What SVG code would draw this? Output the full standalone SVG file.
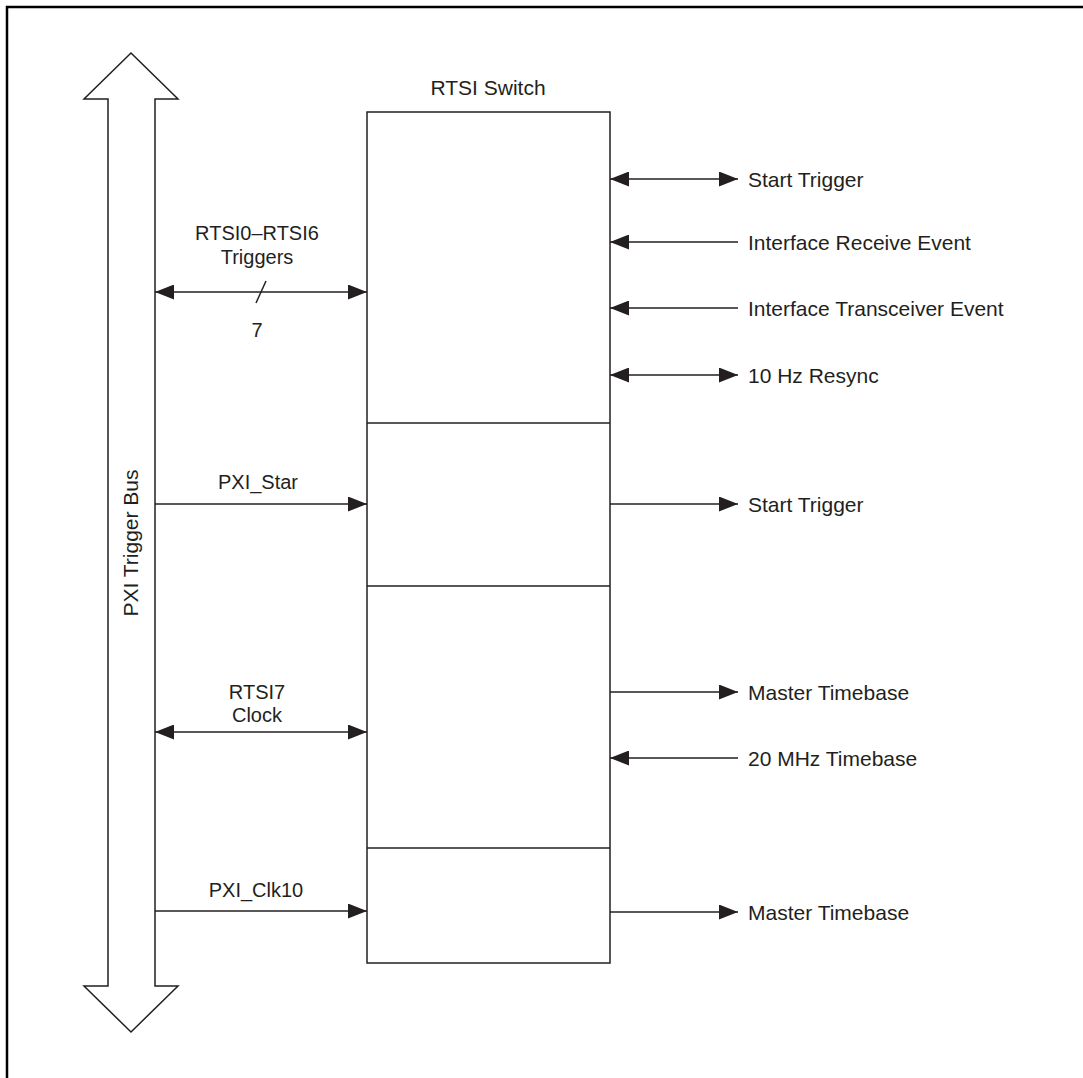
<svg xmlns="http://www.w3.org/2000/svg" width="1083" height="1078" viewBox="0 0 1083 1078">
<style>
text{font-family:"Liberation Sans",Arial,sans-serif;font-size:21px;fill:#231f20}
.c{text-anchor:middle}
.l{font-size:20px}
.ln{stroke:#231f20;stroke-width:1.5;fill:none}
.bx{stroke:#231f20;stroke-width:1.5;fill:#fff}
</style>
<defs>
<marker id="ah" markerUnits="userSpaceOnUse" markerWidth="19" markerHeight="15" refX="19" refY="7.5" orient="auto-start-reverse" viewBox="0 0 19 15">
<path d="M0,0 L19,7.5 L0,15 z" fill="#231f20"/>
</marker>
</defs>
<rect width="1083" height="1078" fill="#fff"/>
<path d="M7,1078 V7 H1083" fill="none" stroke="#000" stroke-width="2.5"/>

<g id="bus">
<polygon class="bx" points="131,53 178,99 155,99 155,986 178,986 131,1032 84,986 108,986 108,99 84,99"/>
<text transform="translate(138,543) rotate(-90)" class="c">PXI Trigger Bus</text>
</g>

<g id="switch">
<text x="488" y="95" class="c">RTSI Switch</text>
<rect class="bx" x="367" y="112" width="243" height="851"/>
<line class="ln" x1="367" y1="423" x2="610" y2="423"/>
<line class="ln" x1="367" y1="586" x2="610" y2="586"/>
<line class="ln" x1="367" y1="848" x2="610" y2="848"/>
</g>

<g id="connectors">
<line class="ln" x1="155" y1="292" x2="367" y2="292" marker-start="url(#ah)" marker-end="url(#ah)"/>
<line class="ln" x1="266" y1="281" x2="256" y2="303"/>
<line class="ln" x1="155" y1="504" x2="367" y2="504" marker-end="url(#ah)"/>
<line class="ln" x1="155" y1="732" x2="367" y2="732" marker-start="url(#ah)" marker-end="url(#ah)"/>
<line class="ln" x1="155" y1="911" x2="367" y2="911" marker-end="url(#ah)"/>

<line class="ln" x1="610" y1="179" x2="738" y2="179" marker-start="url(#ah)" marker-end="url(#ah)"/>
<line class="ln" x1="610" y1="242" x2="738" y2="242" marker-start="url(#ah)"/>
<line class="ln" x1="610" y1="308" x2="738" y2="308" marker-start="url(#ah)"/>
<line class="ln" x1="610" y1="375" x2="738" y2="375" marker-start="url(#ah)" marker-end="url(#ah)"/>
<line class="ln" x1="610" y1="504" x2="738" y2="504" marker-end="url(#ah)"/>
<line class="ln" x1="610" y1="692" x2="738" y2="692" marker-end="url(#ah)"/>
<line class="ln" x1="610" y1="758" x2="738" y2="758" marker-start="url(#ah)"/>
<line class="ln" x1="610" y1="912" x2="738" y2="912" marker-end="url(#ah)"/>
</g>

<g id="labels">
<text x="257" y="240" class="c l">RTSI0–RTSI6</text>
<text x="257" y="264" class="c l">Triggers</text>
<text x="257" y="337" class="c l">7</text>
<text x="258" y="489" class="c l">PXI_Star</text>
<text x="257" y="699" class="c l">RTSI7</text>
<text x="257" y="722" class="c l">Clock</text>
<text x="256" y="897" class="c l">PXI_Clk10</text>

<text x="748" y="187">Start Trigger</text>
<text x="748" y="250">Interface Receive Event</text>
<text x="748" y="316">Interface Transceiver Event</text>
<text x="748" y="383">10 Hz Resync</text>
<text x="748" y="512">Start Trigger</text>
<text x="748" y="700">Master Timebase</text>
<text x="748" y="766">20 MHz Timebase</text>
<text x="748" y="920">Master Timebase</text>
</g>
</svg>
